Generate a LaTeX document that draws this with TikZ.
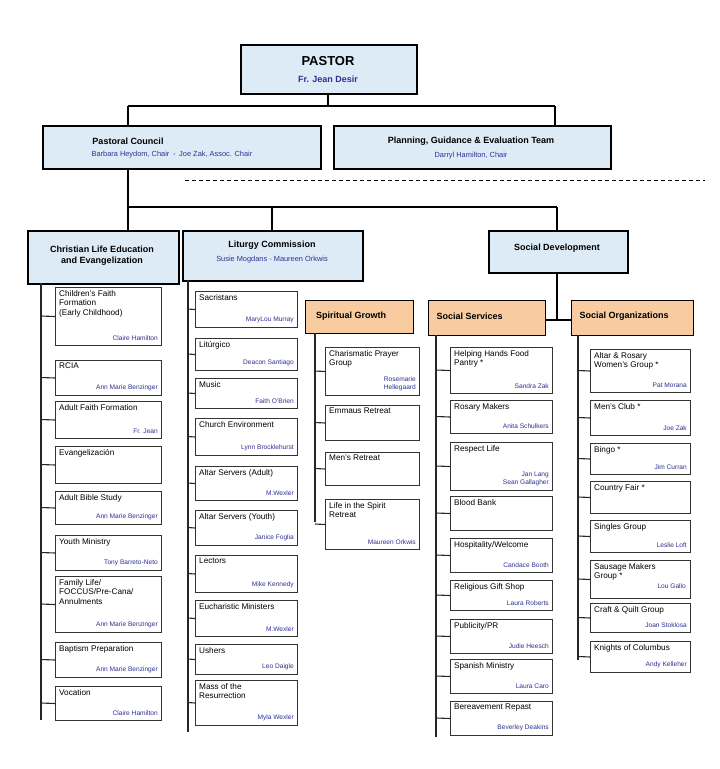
\documentclass[tikz,border=0pt]{standalone}
\usepackage{fontspec}
\setmainfont{Liberation Sans}
\usetikzlibrary{calc}
\definecolor{hb}{HTML}{DDEBF7}
\definecolor{ho}{HTML}{F8CBA0}
\definecolor{pn}{HTML}{2E3192}
\tikzset{
 hdr/.style={draw=black,line width=2.2pt,fill=hb,anchor=north west,inner sep=0pt},
 ohdr/.style={draw=black,line width=1.3pt,fill=ho,anchor=north west,inner sep=0pt},
 itembox/.style={draw=black!80,line width=1pt,fill=white,anchor=north west,inner sep=0pt},
 ttl/.style={anchor=north west,font=\fontsize{8.2}{9.6}\selectfont,align=left,inner sep=0pt},
 psn/.style={anchor=south east,font=\fontsize{6.6}{7.6}\selectfont,text=pn,align=right,inner sep=0pt},
 hfont/.style={font=\bfseries\fontsize{9}{11}\selectfont},
 conn/.style={line width=1.1pt,black!85},
 thick line/.style={line width=2.4pt},
}
% name, x, y, w, h, title, person, spine x
\newcommand\itm[8]{%
 \node[itembox,minimum width=#4pt,minimum height=#5pt] (#1) at (#2,#3) {};
 \node[ttl] (#1t) at ($(#1.north west)+(4,3)$) {#6};
 \node[psn] (#1p) at ($(#1.south east)+(-4,-5)$) {#7};
 \coordinate (#1c) at (#8,#3+#5/2);
 \draw[conn] (#1c) -- (#1.west);
}
\begin{document}
\begin{tikzpicture}[x=1pt,y=-1pt]
\useasboundingbox (0,0) rectangle (720,769);
% top
\node[hdr,minimum width=176pt,minimum height=49pt] (pastor) at (240,44) {};
\node[font=\bfseries\fontsize{13}{15}\selectfont] (pt) at (328,61) {PASTOR};
\node[font=\bfseries\fontsize{9}{11}\selectfont,text=pn] (pn1) at (328,79) {Fr. Jean Desir};
\node[hdr,minimum width=278pt,minimum height=43pt] (pc) at (42,125) {};
\node[hfont] (pct) at (128,141) {Pastoral Council};
\node[font=\fontsize{7.4}{9}\selectfont,text=pn] (pcp) at (172,155) {Barbara Heydom, Chair\enspace -\enspace Joe Zak, Assoc. Chair};
\node[hdr,minimum width=277pt,minimum height=43pt] (pge) at (333,125) {};
\node[hfont] (pget) at (471,141) {Planning, Guidance \& Evaluation Team};
\node[font=\fontsize{7.4}{9}\selectfont,text=pn] (pgep) at (471,156) {Darryl Hamilton, Chair};
\coordinate (j1) at (328,106); \coordinate (j1l) at (128,106); \coordinate (j1r) at (555,106);
\draw[thick line] (pastor.south -| j1) -- (j1);
\draw[thick line] (j1l) -- (j1r);
\draw[thick line] (j1l) -- (j1l |- pc.north);
\draw[thick line] (j1r) -- (j1r |- pge.north);
\coordinate (d1) at (185,180); \coordinate (d2) at (705,180);
\draw[line width=1pt,dash pattern=on 4pt off 3pt] (d1) -- (d2);
% second level
\node[hdr,minimum width=151pt,minimum height=53pt] (cle) at (27,230) {};
\node[hfont,align=center] (clet) at (102,256) {Christian Life Education\\and Evangelization};
\node[hdr,minimum width=180pt,minimum height=50pt] (lit) at (182,230) {};
\node[hfont] (litt) at (272,245) {Liturgy Commission};
\node[font=\fontsize{7.4}{9}\selectfont,text=pn] (litp) at (272,260) {Susie Mogdans - Maureen Orkwis};
\node[hdr,minimum width=139pt,minimum height=42pt] (sd) at (488,230) {};
\node[hfont] (sdt) at (557,248) {Social Development};
\coordinate (j2) at (128,207); \coordinate (j2m) at (272,207); \coordinate (j2r) at (557,207);
\draw[thick line] (j1l |- pc.south) -- (j2);
\draw[thick line] (j2) -- (j2r);
\draw[thick line] (j2) -- (j2 |- cle.north);
\draw[thick line] (j2m) -- (j2m |- lit.north);
\draw[thick line] (j2r) -- (j2r |- sd.north);
% orange headers
\node[ohdr,minimum width=108pt,minimum height=33pt] (sg) at (305,300) {};
\node[hfont] (sgt) at (351,316) {Spiritual Growth};
\node[ohdr,minimum width=117pt,minimum height=35pt] (ss) at (428,300) {};
\node[hfont,anchor=west] (sst) at (433,316) {Social Services};
\node[ohdr,minimum width=122pt,minimum height=35pt] (so) at (571,300) {};
\node[hfont,anchor=west] (sot) at (576,316) {Social Organizations};
\coordinate (j3) at (557,320);
\draw[thick line] (j2r |- sd.south) -- (j3);
\draw[thick line] (ss.east |- j3) -- (so.west |- j3);
% spines
\coordinate (s1a) at (41,283); \coordinate (s1b) at (41,720);
\coordinate (s2a) at (188,280); \coordinate (s2b) at (188,732);
\coordinate (s3a) at (315,333); \coordinate (s3b) at (315,522);
\coordinate (s4a) at (436,335); \coordinate (s4b) at (436,737);
\coordinate (s5a) at (578,335); \coordinate (s5b) at (578,660);
\foreach \a/\b in {s1a/s1b,s2a/s2b,s3a/s3b,s4a/s4b,s5a/s5b} \draw[conn] (\a) -- (\b);
% column 1
\itm{a1}{55}{287}{106}{58}{Children's Faith\\Formation\\(Early Childhood)}{Claire Hamilton}{41}
\itm{a2}{55}{360}{106}{35}{RCIA}{Ann Marie Benzinger}{41}
\itm{a3}{55}{401}{106}{37}{Adult Faith Formation}{Fr. Jean}{41}
\itm{a4}{55}{446}{106}{37}{Evangelización}{}{41}
\itm{a5}{55}{491}{106}{33}{Adult Bible Study}{Ann Marie Benzinger}{41}
\itm{a6}{55}{535}{106}{35}{Youth Ministry}{Tony Barreto-Neto}{41}
\itm{a7}{55}{576}{106}{56}{Family Life/\\FOCCUS/Pre-Cana/\\Annulments}{Ann Marie Benzinger}{41}
\itm{a8}{55}{642}{106}{35}{Baptism Preparation}{Ann Marie Benzinger}{41}
\itm{a9}{55}{686}{106}{34}{Vocation}{Claire Hamilton}{41}
% column 2
\itm{b1}{195}{291}{102}{36}{Sacristans}{MaryLou Murray}{188}
\itm{b2}{195}{338}{102}{32}{Litúrgico}{Deacon Santiago}{188}
\itm{b3}{195}{378}{102}{30}{Music}{Faith O'Brien}{188}
\itm{b4}{195}{418}{102}{37}{Church Environment}{Lynn Brocklehurst}{188}
\itm{b5}{195}{466}{102}{34}{Altar Servers (Adult)}{M.Wexler}{188}
\itm{b6}{195}{510}{102}{35}{Altar Servers (Youth)}{Janice Foglia}{188}
\itm{b7}{195}{555}{102}{37}{Lectors}{Mike Kennedy}{188}
\itm{b8}{195}{600}{102}{36}{Eucharistic Ministers}{M.Wexler}{188}
\itm{b9}{195}{644}{102}{30}{Ushers}{Leo Daigle}{188}
\itm{b10}{195}{680}{102}{45}{Mass of the\\Resurrection}{Myla Wexler}{188}
% column 3
\itm{c1}{325}{347}{94}{48}{Charismatic Prayer\\Group}{}{315}
\node[psn] (c1q) at ($(c1.south east)+(-4,-5)$) {Rosemarie\\Hellegaard};
\itm{c2}{325}{405}{94}{35}{Emmaus Retreat}{}{315}
\itm{c3}{325}{452}{94}{33}{Men's Retreat}{}{315}
\itm{c4}{325}{499}{94}{50}{Life in the Spirit\\Retreat}{Maureen Orkwis}{315}
% column 4
\itm{d1}{450}{347}{102}{46}{Helping Hands Food\\Pantry *}{Sandra Zak}{436}
\itm{d2}{450}{400}{102}{33}{Rosary Makers}{Anita Schulkers}{436}
\itm{d3}{450}{442}{102}{48}{Respect Life}{Jan Lang\\Sean Gallagher}{436}
\itm{d4}{450}{496}{102}{34}{Blood Bank}{}{436}
\itm{d5}{450}{538}{102}{34}{Hospitality/Welcome}{Candace Booth}{436}
\itm{d6}{450}{580}{102}{30}{Religious Gift Shop}{Laura Roberts}{436}
\itm{d7}{450}{619}{102}{34}{Publicity/PR}{Judie Heesch}{436}
\itm{d8}{450}{659}{102}{34}{Spanish Ministry}{Laura Caro}{436}
\itm{d9}{450}{701}{102}{34}{Bereavement Repast}{Beverley Deakins}{436}
% column 5
\itm{e1}{590}{349}{100}{43}{Altar \& Rosary\\Women's Group *}{Pat Morana}{578}
\itm{e2}{590}{400}{100}{35}{Men's Club *}{Joe Zak}{578}
\itm{e3}{590}{443}{100}{31}{Bingo *}{Jim Curran}{578}
\itm{e4}{590}{481}{100}{32}{Country Fair *}{}{578}
\itm{e5}{590}{520}{100}{32}{Singles Group}{Leslie Loft}{578}
\itm{e6}{590}{560}{100}{38}{Sausage Makers\\Group *}{}{578}
\node[psn] (e6q) at ($(e6.south east)+(-5,-10)$) {Lou Gallo};
\itm{e7}{590}{603}{100}{29}{Craft \& Quilt Group}{Joan Stoklosa}{578}
\itm{e8}{590}{641}{100}{31}{Knights of Columbus}{Andy Kelleher}{578}
\end{tikzpicture}
\end{document}
